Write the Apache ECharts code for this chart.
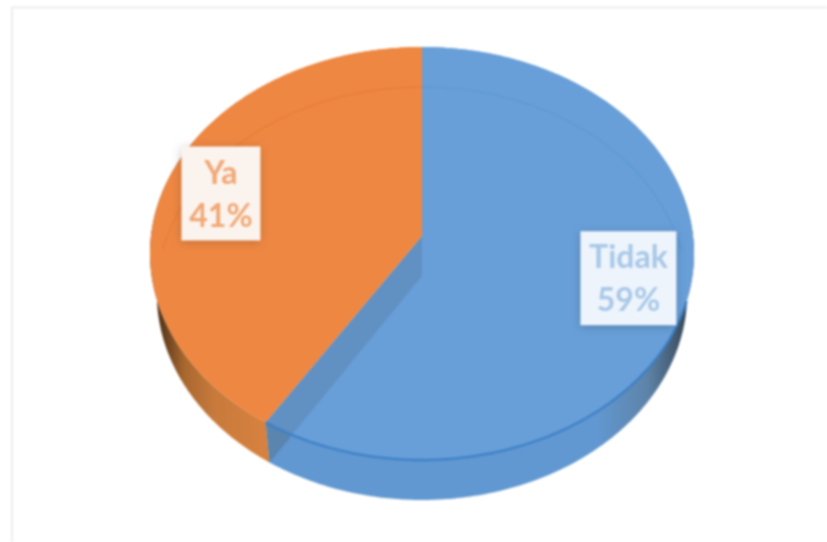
<!DOCTYPE html>
<html>
<head>
<meta charset="utf-8">
<style>
html,body{margin:0;padding:0;background:#fff;}
#main{width:827px;height:542px;filter:blur(0.9px);}
</style>
<script src="https://cdn.jsdelivr.net/npm/echarts@6/dist/echarts.min.js"></script>
</head>
<body>
<div id="main"></div>
<script>
// Data
const categories = ['Tidak', 'Ya'];
const values = [59, 41];
const percentLabels = ['59%', '41%'];

// Styling (separate from the data)
const topColors = ['#689fd8', '#ee8742'];
const sideStops = [
  [[0, '#6198d1'], [0.78, '#6198d1'], [0.9, '#5e83a8'], [0.975, '#3f5468'], [1, '#2f3d4c']],
  [[0, '#4f3218'], [0.08, '#5c3a1c'], [0.23, '#a9682f'], [0.43, '#c87a3c'], [0.75, '#d6813f'], [1, '#d6813f']]
];
const boxFill = ['#eef4fb', '#fbf4ee'];
const textFill = ['#a8c8e8', '#f1a877'];
const arcStroke = ['rgba(70,140,210,0.3)', 'rgba(222,112,36,0.35)'];

// Projective tilt of the disc
const CX = 422, APEX_Y = 236, RX = 271, RY = 205, K = 0.0847;
const DEPTH = 40, LOWER_SCALE = 0.975, LABEL_R = 0.775;
const labelNudgeX = [1, -3], labelNudgeY = [-3, 1];

const total = values.reduce((a, b) => a + b, 0);
const fracStart = i => values.slice(0, i).reduce((a, b) => a + b, 0) / total;
function proj(theta, r, lower) {
  const u = Math.sin(theta) * r, v = -Math.cos(theta) * r;
  const s = 1 / (1 - K * v);
  const sx = lower ? LOWER_SCALE : 1;
  return [CX + RX * sx * u * s, APEX_Y + RY * v * s + (lower ? DEPTH : 0)];
}
function arc(a0, a1, lower) {
  const n = Math.max(4, Math.ceil(Math.abs(a1 - a0) / 0.01));
  const pts = [];
  for (let i = 0; i <= n; i++) pts.push(proj(a0 + (a1 - a0) * i / n, 1, lower));
  return pts;
}
function sliceAngles(i) {
  const a0 = fracStart(i) * 2 * Math.PI;
  return [a0, a0 + values[i] / total * 2 * Math.PI];
}

function renderSides(params, api) {
  const i = params.dataIndex;
  const [a0, a1] = sliceAngles(i);
  const stops = sideStops[i].map(s => ({ offset: s[0], color: s[1] }));
  const fill = i === 0
    ? { type: 'linear', x: 267, y: 0, x2: 690, y2: 0, global: true, colorStops: stops }
    : { type: 'linear', x: 150, y: 0, x2: 300, y2: 0, global: true, colorStops: stops };
  const pts = arc(a0, a1, false).concat(arc(a1, a0, true));
  return { type: 'polygon', shape: { points: pts }, style: { fill: fill } };
}
function renderTops(params, api) {
  const i = params.dataIndex;
  const [a0, a1] = sliceAngles(i);
  const pts = [proj(0, 0, false)].concat(arc(a0, a1, false));
  return { type: 'polygon', shape: { points: pts }, style: { fill: topColors[i] } };
}
function renderGlass(params, api) {
  // See-through details of the translucent blue slice
  const i = params.dataIndex;
  const [a0, a1] = sliceAngles(i);
  const children = [];
  if (i === 0) {
    const e = proj(a1, 1, false), eb = proj(a1, 1, true);
    const c = proj(0, 0, false), cb = [c[0], c[1] + DEPTH];
    children.push({ type: 'polygon', shape: { points: [c, e, eb, cb] },
      style: { fill: 'rgba(88,120,160,0.38)' } });
    children.push({ type: 'polygon', shape: { points: [e, eb, [eb[0] + 22, eb[1] - 26]] },
      style: { fill: 'rgba(80,110,130,0.25)' } });
    children.push({ type: 'polyline', shape: { points: arc(Math.PI * 0.6, a1, false) },
      style: { stroke: 'rgba(58,124,196,0.85)', lineWidth: 2.5, fill: 'none' } });
  }
  children.push({ type: 'polyline', shape: { points: arc(a0, a1, true).filter(p => p[1] < 250) },
    style: { stroke: arcStroke[i], lineWidth: 1.5, fill: 'none' } });
  return { type: 'group', children: children };
}
function renderLabels(params, api) {
  const i = params.dataIndex;
  const [a0, a1] = sliceAngles(i);
  const p = proj((a0 + a1) / 2, LABEL_R, false);
  const w = [96, 79][i], h = 94;
  return {
    type: 'group', x: p[0] + labelNudgeX[i], y: p[1] + labelNudgeY[i],
    children: [
      { type: 'rect', shape: { x: -w / 2, y: -h / 2, width: w, height: h },
        style: { fill: boxFill[i], shadowBlur: 9, shadowOffsetY: 2, shadowColor: 'rgba(0,0,0,0.22)' } },
      { type: 'text', style: { x: 0, y: -20, text: categories[i], fill: textFill[i],
        font: '700 32px Lato', align: 'center', verticalAlign: 'middle' } },
      { type: 'text', style: { x: 0, y: 23, text: percentLabels[i], fill: textFill[i],
        font: '700 32px Lato', align: 'center', verticalAlign: 'middle' } }
    ]
  };
}

const chart = echarts.init(document.getElementById('main'), null, { renderer: 'canvas' });
const seriesData = values.map((v, i) => ({ name: categories[i], value: v }));
chart.setOption({
  animation: false,
  backgroundColor: '#fff',
  graphic: [
    { type: 'polyline', shape: { points: [[12, 542], [12, 7.5], [827, 7.5]] }, z: 0,
      style: { stroke: '#e8e8e8', lineWidth: 1.5, fill: 'none' } }
  ],
  series: [
    { type: 'custom', coordinateSystem: 'none', renderItem: renderSides, data: seriesData, z: 1, silent: true },
    { type: 'custom', coordinateSystem: 'none', renderItem: renderTops, data: seriesData, z: 2, silent: true },
    { type: 'custom', coordinateSystem: 'none', renderItem: renderGlass, data: seriesData, z: 3, silent: true },
    { type: 'custom', coordinateSystem: 'none', renderItem: renderLabels, data: seriesData, z: 4, silent: true }
  ]
});
</script>
</body>
</html>
